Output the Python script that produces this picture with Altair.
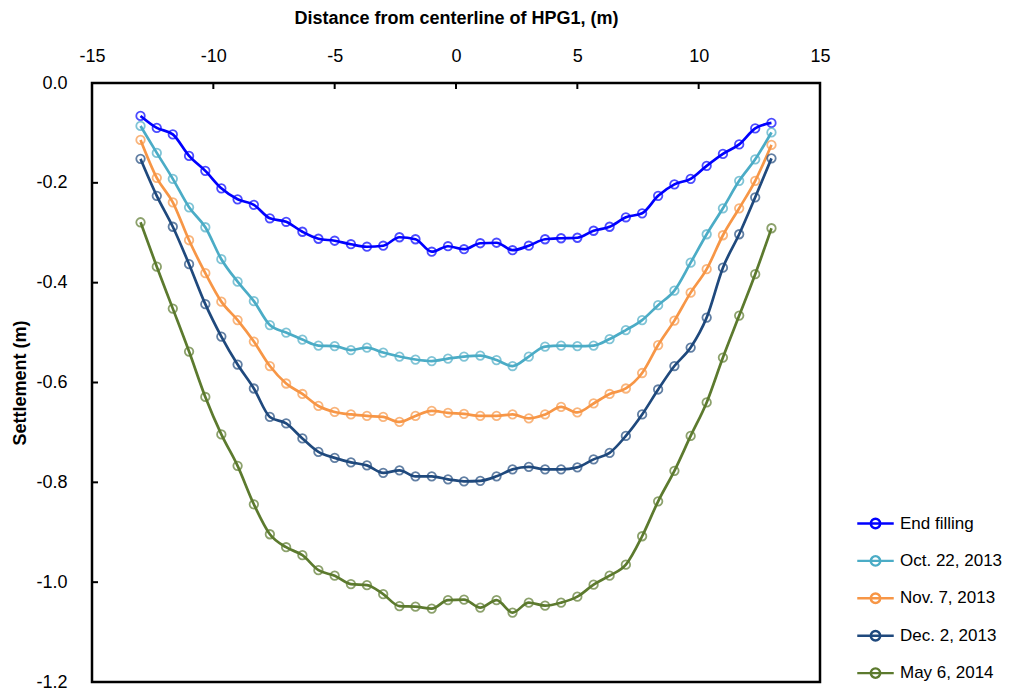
import altair as alt
import pandas as pd

# ---- data ----
x_m = [-13.00, -12.33, -11.67, -11.00, -10.33, -9.67, -9.00, -8.33, -7.67, -7.00,
       -6.33, -5.67, -5.00, -4.33, -3.67, -3.00, -2.33, -1.67, -1.00, -0.33,
       0.33, 1.00, 1.67, 2.33, 3.00, 3.67, 4.33, 5.00, 5.67, 6.33,
       7.00, 7.67, 8.33, 9.00, 9.67, 10.33, 11.00, 11.67, 12.33, 13.00]

end_filling = [-0.066, -0.090, -0.103, -0.146, -0.176, -0.211, -0.233, -0.244, -0.271, -0.278,
               -0.298, -0.312, -0.316, -0.323, -0.328, -0.326, -0.309, -0.313, -0.338, -0.327,
               -0.333, -0.321, -0.320, -0.335, -0.326, -0.313, -0.311, -0.310, -0.296, -0.288,
               -0.269, -0.261, -0.226, -0.203, -0.192, -0.166, -0.142, -0.123, -0.091, -0.080]

oct_22_2013 = [-0.086, -0.140, -0.192, -0.249, -0.289, -0.353, -0.398, -0.437, -0.485, -0.500,
               -0.514, -0.526, -0.527, -0.535, -0.530, -0.540, -0.548, -0.554, -0.557, -0.552,
               -0.548, -0.546, -0.555, -0.567, -0.548, -0.528, -0.526, -0.527, -0.526, -0.513,
               -0.495, -0.475, -0.445, -0.416, -0.360, -0.303, -0.251, -0.196, -0.153, -0.099]

nov_7_2013 = [-0.114, -0.190, -0.239, -0.315, -0.381, -0.438, -0.475, -0.518, -0.567, -0.602,
              -0.623, -0.647, -0.659, -0.664, -0.667, -0.669, -0.679, -0.667, -0.657, -0.661,
              -0.663, -0.667, -0.667, -0.664, -0.672, -0.664, -0.649, -0.660, -0.642, -0.623,
              -0.612, -0.581, -0.525, -0.476, -0.420, -0.373, -0.305, -0.251, -0.196, -0.124]

dec_2_2013 = [-0.152, -0.226, -0.288, -0.363, -0.443, -0.508, -0.564, -0.612, -0.669, -0.682,
              -0.712, -0.739, -0.751, -0.760, -0.766, -0.781, -0.776, -0.788, -0.788, -0.794,
              -0.798, -0.797, -0.788, -0.774, -0.769, -0.774, -0.774, -0.770, -0.754, -0.741,
              -0.707, -0.664, -0.614, -0.567, -0.530, -0.470, -0.370, -0.303, -0.229, -0.151]

may_6_2014 = [-0.279, -0.368, -0.452, -0.538, -0.629, -0.704, -0.767, -0.844, -0.904, -0.930,
              -0.946, -0.976, -0.987, -1.004, -1.006, -1.024, -1.048, -1.049, -1.053, -1.036,
              -1.035, -1.051, -1.036, -1.061, -1.041, -1.047, -1.041, -1.029, -1.005, -0.987,
              -0.965, -0.908, -0.838, -0.777, -0.707, -0.640, -0.550, -0.466, -0.383, -0.291]

series_names = ["End filling", "Oct. 22, 2013", "Nov. 7, 2013", "Dec. 2, 2013", "May 6, 2014"]
series_values = [end_filling, oct_22_2013, nov_7_2013, dec_2_2013, may_6_2014]
series_colors = ["#0000FF", "#4BACC6", "#F79646", "#1F497D", "#5C7A2E"]

x_ticks = [-15, -10, -5, 0, 5, 10, 15]
y_ticks = [0.0, -0.2, -0.4, -0.6, -0.8, -1.0, -1.2]

# ---- build tables ----
rows = []
for name, vals in zip(series_names, series_values):
    for xv, yv in zip(x_m, vals):
        rows.append({"series": name, "x": xv, "v": yv})
df = pd.DataFrame(rows)
xt = pd.DataFrame({"x": x_ticks})
yt = pd.DataFrame({"v": y_ticks})

FONT = "Liberation Sans"

xscale = alt.Scale(domain=[-15, 15], nice=False, zero=False)
yscale = alt.Scale(domain=[-1.2, 0], nice=False, zero=False)

xaxis = alt.Axis(orient="top", values=x_ticks, title="Distance from centerline of HPG1, (m)",
                 ticks=False, tickSize=0, domain=False, grid=False,
                 labelPadding=18, titlePadding=20, labelFontSize=18, titleFontSize=18,
                 titleFontWeight="bold", labelFont=FONT, titleFont=FONT,
                 labelColor="black", titleColor="black", labelFlush=False,
                 labelOverlap=False, labelExpr="datum.value + ''")
yaxis = alt.Axis(values=y_ticks, title="Settlement (m)",
                 ticks=False, tickSize=0, domain=False, grid=False,
                 labelPadding=25, titlePadding=6, labelFontSize=18, titleFontSize=18,
                 titleFontWeight="bold", labelFont=FONT, titleFont=FONT,
                 labelColor="black", titleColor="black", labelOverlap=False,
                 labelExpr="replace(format(datum.value, '.1f'), '\u2212', '-')")

X = alt.X("x:Q", scale=xscale, axis=xaxis)
Y = alt.Y("v:Q", scale=yscale, axis=yaxis)

legend_path = "M-1,0H1M0.26,0A0.26,0.26,0,1,1,-0.26,0A0.26,0.26,0,1,1,0.26,0"

lines = alt.Chart(df).mark_line(strokeWidth=2.7, interpolate="monotone").encode(
    x=X, y=Y,
    color=alt.Color("series:N", sort=series_names,
                    scale=alt.Scale(domain=series_names, range=series_colors),
                    legend=alt.Legend(title=None, orient="none", legendX=764, legendY=421,
                                      symbolType=legend_path, symbolSize=1330,
                                      symbolStrokeWidth=2.4, symbolFillColor="transparent",
                                      labelFontSize=17, labelFont=FONT, labelColor="black",
                                      rowPadding=7.4, labelOffset=5, labelLimit=300)),
    detail="series:N",
)

points = alt.Chart(df).mark_point(shape="circle", filled=False, size=72, strokeWidth=1.8).encode(
    x=X, y=Y,
    stroke=alt.Stroke("series:N", sort=series_names,
                      scale=alt.Scale(domain=series_names, range=series_colors),
                      legend=None),
)

xtick_rules = alt.Chart(xt).mark_rule(color="black", strokeWidth=2).encode(
    x=X, y=alt.value(0), y2=alt.value(6)
)
ytick_rules = alt.Chart(yt).mark_rule(color="black", strokeWidth=2).encode(
    y=Y, x=alt.value(0), x2=alt.value(6)
)

chart = alt.layer(lines, points, xtick_rules, ytick_rules).properties(
    width=728, height=599,
    padding={"left": 84, "top": 75, "right": 186, "bottom": 11},
    autosize=alt.AutoSizeParams(type="none"),
    background="white",
).configure_view(stroke="black", strokeWidth=2.5)

chart.save("out.html", embed_options={"renderer": "svg", "actions": False})
